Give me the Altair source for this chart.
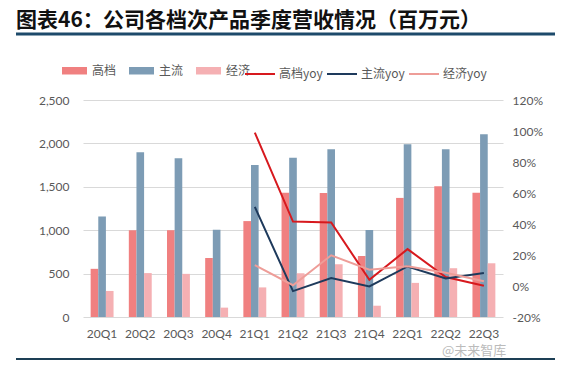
import altair as alt
import pandas as pd

quarters = ["20Q1", "20Q2", "20Q3", "20Q4", "21Q1", "21Q2", "21Q3", "21Q4", "22Q1", "22Q2", "22Q3"]
high = [555, 1000, 1000, 680, 1105, 1432, 1430, 703, 1372, 1505, 1432]
main = [1158, 1898, 1828, 1004, 1752, 1835, 1934, 1001, 1990, 1934, 2106]
econ = [300, 506, 497, 108, 341, 504, 607, 130, 393, 562, 619]

yoy_quarters = ["21Q1", "21Q2", "21Q3", "21Q4", "22Q1", "22Q2", "22Q3"]
high_yoy = [99, 41.6, 41, 4, 23.8, 5.8, 0.2]
main_yoy = [51, -3.3, 5.1, -0.3, 12.6, 4.8, 8.4]
econ_yoy = [13.5, 0.5, 19.8, 10.5, 12.8, 8.6, 3]

bar_types = ["高档", "主流", "经济"]
bar_colors = ["#F08080", "#7D9CB5", "#F5B0B3"]
line_types = ["高档yoy", "主流yoy", "经济yoy"]
line_colors = ["#D7191E", "#1E3A5C", "#EE9D98"]

left_ticks = [0, 500, 1000, 1500, 2000, 2500]
right_ticks = [-20, 0, 20, 40, 60, 80, 100, 120]

title_a = "图表46："
title_b = "公司各档次产品季度营收情况（百万元）"
watermark = "@未来智库"

bars_df = pd.DataFrame({
    "q": quarters * 3,
    "type": [bar_types[0]] * len(quarters) + [bar_types[1]] * len(quarters) + [bar_types[2]] * len(quarters),
    "v": high + main + econ,
})
lines_df = pd.DataFrame({
    "q": yoy_quarters * 3,
    "series": [line_types[0]] * len(yoy_quarters) + [line_types[1]] * len(yoy_quarters) + [line_types[2]] * len(yoy_quarters),
    "p": high_yoy + main_yoy + econ_yoy,
})

LABEL_FONT = "Lato"
LABEL_COLOR = "#595959"
CJK = "Noto Sans CJK SC"

xenc = alt.X("q:N", sort=quarters, title=None,
             scale=alt.Scale(paddingInner=0.4, paddingOuter=0.2),
             axis=alt.Axis(labelAngle=0, ticks=False, domain=False, labelPadding=11,
                           labelFont=LABEL_FONT, labelFontSize=12, labelColor=LABEL_COLOR))

bars = alt.Chart(bars_df).mark_bar().encode(
    x=xenc,
    xOffset=alt.XOffset("type:N", sort=bar_types, scale=alt.Scale(paddingInner=0, paddingOuter=0)),
    y=alt.Y("v:Q", title=None, scale=alt.Scale(domain=[0, 2500], nice=False),
            axis=alt.Axis(values=left_ticks, format=",.0f", orient="left", ticks=False, domain=False,
                          grid=True, gridColor="#D9D9D9", gridWidth=1, labelPadding=14,
                          labelFont=LABEL_FONT, labelFontSize=12, labelColor=LABEL_COLOR)),
    fill=alt.Fill("type:N", sort=bar_types,
                  scale=alt.Scale(domain=bar_types, range=bar_colors),
                  legend=alt.Legend(title=None, orient="none", legendX=-21, legendY=-42,
                                    direction="horizontal", padding=0,
                                    symbolType="M-1,-0.3L1,-0.3L1,0.3L-1,0.3Z", symbolSize=625,
                                    symbolStrokeWidth=0, labelOffset=5, columnPadding=12,
                                    labelFont=CJK, labelFontSize=12, labelColor=LABEL_COLOR)),
)

lines = alt.Chart(lines_df).mark_line(strokeWidth=2).encode(
    x=alt.X("q:N", sort=quarters),
    y=alt.Y("p:Q", title=None, scale=alt.Scale(domain=[-20, 120], nice=False),
            axis=alt.Axis(values=right_ticks, labelExpr="datum.value + '%'", orient="right",
                          ticks=False, domain=False, grid=False, labelPadding=9,
                          labelFont=LABEL_FONT, labelFontSize=12, labelColor=LABEL_COLOR)),
    stroke=alt.Stroke("series:N", sort=line_types,
                      scale=alt.Scale(domain=line_types, range=line_colors),
                      legend=alt.Legend(title=None, orient="none", legendX=161, legendY=-42,
                                        direction="horizontal", padding=0,
                                        symbolType="stroke", symbolSize=900, symbolStrokeWidth=2,
                                        labelOffset=3, columnPadding=0,
                                        labelFont=CJK, labelFontSize=12, labelColor=LABEL_COLOR)),
)

title_df = pd.DataFrame({"t": [title_a]})
title_df2 = pd.DataFrame({"t": [title_b]})
wm_df = pd.DataFrame({"t": [watermark]})
one = pd.DataFrame({"k": [0]})

t1 = alt.Chart(title_df).mark_text(font=CJK, fontSize=21, fontWeight="bold", color="#111111",
                                   align="left", baseline="middle").encode(
    text="t:N", x=alt.value(-67), y=alt.value(-79))
t2 = alt.Chart(title_df2).mark_text(font=CJK, fontSize=21, fontWeight="bold", color="#111111",
                                    align="left", baseline="middle").encode(
    text="t:N", x=alt.value(20), y=alt.value(-79))
wm = alt.Chart(wm_df).mark_text(font=CJK, fontSize=13, color="#BBBBBB",
                                align="left", baseline="middle").encode(
    text="t:N", x=alt.value(359), y=alt.value(251))
rule_top = alt.Chart(one).mark_rule(color="#1D4A6B", strokeWidth=3).encode(
    x=alt.value(-67), x2=alt.value(472), y=alt.value(-66))
rule_bot = alt.Chart(one).mark_rule(color="#1D3F55", strokeWidth=2).encode(
    x=alt.value(-67), x2=alt.value(472), y=alt.value(259))

chart = alt.layer(bars, lines, t1, t2, wm, rule_top, rule_bot).resolve_scale(
    y="independent"
).properties(
    width=420, height=217,
    autosize=alt.AutoSizeParams(type="none"),
    padding={"left": 75, "top": 92, "right": 52, "bottom": 43},
    background="white",
).configure_view(stroke=None)

chart.save("out.html", embed_options={"renderer": "svg", "actions": False})
